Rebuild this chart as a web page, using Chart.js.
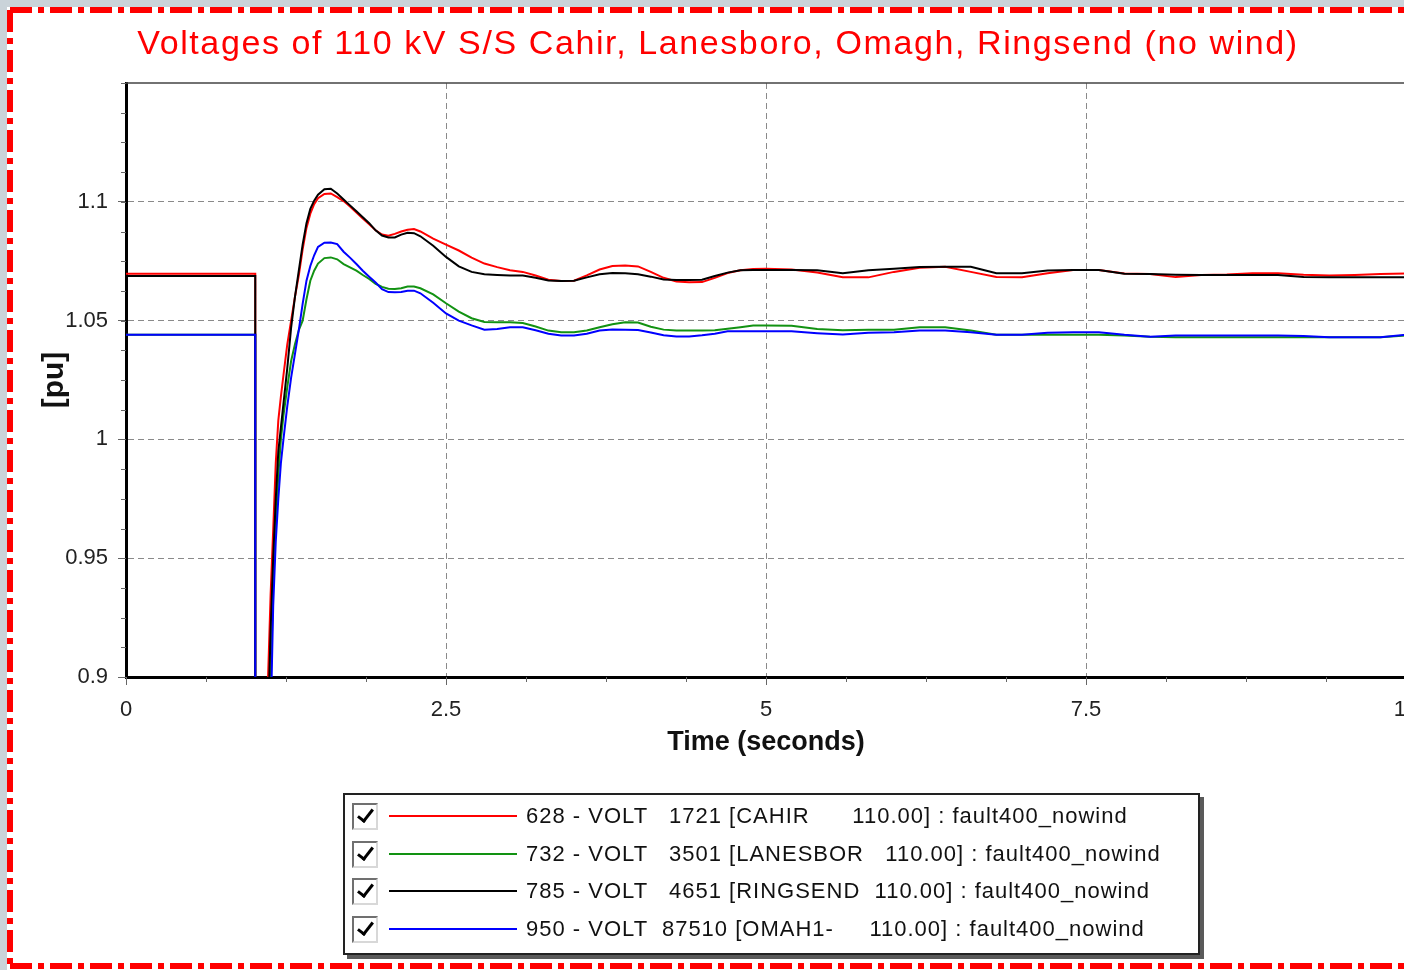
<!DOCTYPE html>
<html>
<head>
<meta charset="utf-8">
<title>Voltages of 110 kV S/S</title>
<script src="https://cdn.jsdelivr.net/npm/chart.js@4.4.1/dist/chart.umd.min.js"></script>
<style>
  html, body { margin: 0; padding: 0; width: 1404px; height: 970px; overflow: hidden; background: #cad3d9; }
  #wrap { position: absolute; left: 0; top: 0; width: 1434px; height: 970px; }
  #legend {
    position: absolute; left: 343px; top: 793px; width: 853px; height: 158px;
    border: 2px solid #222; background: #fff; box-shadow: 4px 4px 0 #5a5a5a;
    font-family: "Liberation Sans", Arial, sans-serif; font-size: 22px; color: #111;
  }
  .row { position: absolute; left: 0; width: 100%; height: 30px; }
  .box {
    position: absolute; left: 7px; top: 2px; width: 22px; height: 23px;
    border: 2px solid; border-color: #707070 #d8d8d8 #d8d8d8 #707070; background: #fff;
  }
  .box::after {
    content: ''; position: absolute; left: 7px; top: 1px; width: 6px; height: 13px;
    border-right: 3px solid #000; border-bottom: 3px solid #000; transform: rotate(38deg);
  }
  .swatch { position: absolute; left: 44px; top: 14px; width: 128px; height: 2px; }
  .txt { position: absolute; left: 181px; top: 0; line-height: 30px; white-space: pre; letter-spacing: 1px; }
</style>
</head>
<body>
<div id="wrap"><canvas id="voltChart" width="1434" height="970"></canvas></div>
<div id="legend"></div>
<script>
// time in seconds, shared by all four traces
const time = [0, 1.01, 1.01, 1.09, 1.11, 1.13, 1.15, 1.17, 1.19, 1.21, 1.23, 1.26, 1.29, 1.32, 1.35, 1.38, 1.41, 1.44, 1.47, 1.50,
  1.55, 1.60, 1.65, 1.70, 1.75, 1.80, 1.85, 1.90, 1.95, 2.00, 2.05, 2.10, 2.15, 2.20, 2.25, 2.30, 2.40, 2.50, 2.60, 2.70,
  2.80, 2.90, 3.00, 3.10, 3.20, 3.30, 3.40, 3.50, 3.60, 3.70, 3.80, 3.90, 4.00, 4.10, 4.20, 4.30, 4.40, 4.50, 4.60, 4.70,
  4.80, 4.90, 5.00, 5.20, 5.40, 5.60, 5.80, 6.00, 6.20, 6.40, 6.60, 6.80, 7.00, 7.20, 7.40, 7.60, 7.80, 8.00, 8.20, 8.40,
  8.60, 8.80, 9.00, 9.20, 9.40, 9.60, 9.80, 10.0];

const cahir = [1.0697, 1.0697, 0.6, 0.6, 0.9, 0.935, 0.962, 0.99, 1.008, 1.018, 1.027, 1.040, 1.050, 1.060, 1.069, 1.080, 1.089, 1.095, 1.099, 1.1015,
  1.1033, 1.1035, 1.102, 1.1003, 1.098, 1.0955, 1.093, 1.0905, 1.088, 1.0862, 1.0857, 1.0865, 1.0875, 1.0882, 1.0885, 1.0875, 1.0845, 1.082, 1.0795, 1.0765,
  1.074, 1.0725, 1.0712, 1.0705, 1.069, 1.0672, 1.0667, 1.0668, 1.069, 1.0715, 1.073, 1.0732, 1.0728, 1.0705, 1.068, 1.0665, 1.0661, 1.0662, 1.068, 1.070,
  1.0712, 1.0717, 1.0718, 1.0715, 1.0702, 1.0682, 1.0682, 1.0705, 1.0722, 1.0727, 1.0705, 1.0684, 1.0682, 1.0699, 1.0713, 1.0713, 1.0698, 1.0696, 1.0683, 1.0692,
  1.0694, 1.0699, 1.0699, 1.0693, 1.069, 1.0692, 1.0696, 1.0698];

const lanesboro = [1.044, 1.044, 0.6, 0.6, 0.86, 0.895, 0.94, 0.965, 0.985, 1.0, 1.01, 1.022, 1.033, 1.040, 1.046, 1.05, 1.059, 1.0668, 1.071, 1.074,
  1.0763, 1.0766, 1.0758, 1.0738, 1.0724, 1.071, 1.0692, 1.0675, 1.0655, 1.0642, 1.0634, 1.0633, 1.0636, 1.0643, 1.0643, 1.0636, 1.061, 1.0573, 1.0538, 1.051,
  1.0494, 1.0493, 1.0493, 1.049, 1.0475, 1.0458, 1.0451, 1.0451, 1.0458, 1.0472, 1.0485, 1.0493, 1.0492, 1.0474, 1.0462, 1.0458, 1.0458, 1.0458, 1.0459, 1.0466,
  1.0472, 1.0479, 1.0479, 1.0478, 1.0465, 1.0459, 1.0461, 1.0462, 1.0472, 1.0472, 1.0458, 1.044, 1.044, 1.044, 1.044, 1.044, 1.0437, 1.0432, 1.043, 1.043,
  1.043, 1.043, 1.043, 1.043, 1.043, 1.043, 1.043, 1.0437];

const ringsend = [1.0688, 1.0688, 0.6, 0.6, 0.88, 0.92, 0.95, 0.975, 0.995, 1.005, 1.015, 1.030, 1.047, 1.060, 1.071, 1.082, 1.091, 1.097, 1.1005, 1.103,
  1.1053, 1.1055, 1.1035, 1.101, 1.0985, 1.096, 1.0935, 1.091, 1.088, 1.0858, 1.085, 1.085, 1.0862, 1.087, 1.0868, 1.0855, 1.0815, 1.0768, 1.0728, 1.0705,
  1.0695, 1.0692, 1.069, 1.069, 1.068, 1.0669, 1.0667, 1.0668, 1.0682, 1.0695, 1.070, 1.0699, 1.0695, 1.0685, 1.0673, 1.0671, 1.0671, 1.0672, 1.0688, 1.0702,
  1.0712, 1.0713, 1.0713, 1.0713, 1.0712, 1.0699, 1.0712, 1.0718, 1.0726, 1.0727, 1.0727, 1.0699, 1.0699, 1.0711, 1.0713, 1.0713, 1.0697, 1.0696, 1.0693, 1.0692,
  1.0692, 1.0692, 1.0692, 1.0683, 1.0682, 1.0682, 1.0682, 1.0682];

const omagh = [1.044, 1.044, 0.6, 0.6, 0.85, 0.88, 0.93, 0.957, 0.975, 0.99, 1.0, 1.014, 1.026, 1.036, 1.046, 1.057, 1.0668, 1.073, 1.0775, 1.081,
  1.0828, 1.0829, 1.0822, 1.079, 1.0765, 1.0738, 1.071, 1.0685, 1.066, 1.0632, 1.062, 1.0619, 1.062, 1.0626, 1.0626, 1.0615, 1.0575, 1.053, 1.050, 1.048,
  1.0462, 1.0465, 1.0472, 1.0472, 1.0459, 1.0445, 1.0437, 1.0437, 1.0445, 1.0458, 1.0463, 1.0461, 1.046, 1.045, 1.0438, 1.0433, 1.0433, 1.0438, 1.0445, 1.0455,
  1.0455, 1.0455, 1.0455, 1.0455, 1.0447, 1.0441, 1.0449, 1.0451, 1.0458, 1.0458, 1.0451, 1.044, 1.044, 1.0449, 1.0451, 1.0451, 1.044, 1.0432, 1.0437, 1.0437,
  1.0437, 1.0437, 1.0437, 1.0435, 1.043, 1.043, 1.043, 1.044];

const seriesLabels = [
  '628 - VOLT   1721 [CAHIR      110.00] : fault400_nowind',
  '732 - VOLT   3501 [LANESBOR   110.00] : fault400_nowind',
  '785 - VOLT   4651 [RINGSEND  110.00] : fault400_nowind',
  '950 - VOLT  87510 [OMAH1-     110.00] : fault400_nowind'
];

const chartTitle = 'Voltages of 110 kV S/S Cahir, Lanesboro, Omagh, Ringsend (no wind)';
const xTicks = [0, 2.5, 5, 7.5, 10];
const yTicks = [0.9, 0.95, 1, 1.05, 1.1];

const FONT = '"Liberation Sans", Arial, sans-serif';
const colors = ['#ff0000', '#129212', '#000000', '#0000ff'];
const drawOrder = [4, 3, 2, 1]; // blue on top, then black...

const toPoints = (vals) => time.map((t, i) => ({ x: t, y: vals[i] }));
const seriesValues = [cahir, lanesboro, ringsend, omagh];

// grey page, white panel, red dash-dot frame, red title
const backdrop = {
  id: 'backdrop',
  beforeDraw(chart) {
    const ctx = chart.ctx;
    const w = chart.width, h = chart.height;
    ctx.save();
    ctx.fillStyle = '#cad3d9';
    ctx.fillRect(0, 0, w, h);
    ctx.fillStyle = '#ffffff';
    ctx.fillRect(7, 7, w, h);
    ctx.strokeStyle = '#ff0000';
    ctx.lineWidth = 6;
    ctx.setLineDash([22, 6, 6, 6]);
    ctx.beginPath();
    ctx.moveTo(10, 10); ctx.lineTo(w, 10);
    ctx.moveTo(10, 10); ctx.lineTo(10, h);
    ctx.moveTo(10, 966); ctx.lineTo(w, 966);
    ctx.stroke();
    ctx.setLineDash([]);
    ctx.fillStyle = '#ff0000';
    ctx.font = '34px ' + FONT;
    ctx.letterSpacing = '1.6px';
    ctx.textAlign = 'center';
    ctx.textBaseline = 'middle';
    ctx.fillText(chartTitle, 718, 45);
    ctx.restore();
  }
};

// thin frame on top/right and the small minor ticks
const frame = {
  id: 'frame',
  afterDraw(chart) {
    const ctx = chart.ctx;
    const a = chart.chartArea;
    const xs = chart.scales.x, ys = chart.scales.y;
    ctx.save();
    ctx.strokeStyle = '#444';
    ctx.lineWidth = 1.5;
    ctx.beginPath();
    ctx.moveTo(a.left, a.top); ctx.lineTo(a.right, a.top); ctx.lineTo(a.right, a.bottom);
    ctx.stroke();
    ctx.strokeStyle = '#666';
    ctx.lineWidth = 1;
    ctx.beginPath();
    for (let v = 0; v <= 10.001; v += 0.625) {
      const px = Math.round(xs.getPixelForValue(v)) + 0.5;
      ctx.moveTo(px, a.bottom); ctx.lineTo(px, a.bottom + 5);
    }
    for (let v = 0.9; v <= 1.15; v += 0.0125) {
      const py = Math.round(ys.getPixelForValue(v)) + 0.5;
      ctx.moveTo(a.left - 5, py); ctx.lineTo(a.left, py);
    }
    ctx.stroke();
    ctx.restore();
  }
};

const fmt = (v) => String(+Number(v).toFixed(4));

new Chart(document.getElementById('voltChart'), {
  type: 'line',
  data: {
    datasets: seriesValues.map((vals, i) => ({
      label: seriesLabels[i],
      data: toPoints(vals),
      borderColor: colors[i],
      borderWidth: 2,
      pointRadius: 0,
      tension: 0,
      fill: false,
      order: drawOrder[i]
    }))
  },
  options: {
    responsive: false,
    animation: false,
    layout: { padding: { left: 0, right: 28, top: 83, bottom: 0 } },
    plugins: {
      legend: { display: false },
      tooltip: { enabled: false },
      title: { display: false }
    },
    scales: {
      x: {
        type: 'linear',
        min: 0,
        max: 10,
        afterBuildTicks: (scale) => { scale.ticks = xTicks.map(v => ({ value: v })); },
        afterFit: (scale) => { scale.height = 293; },
        ticks: {
          color: '#222',
          padding: 12,
          maxRotation: 0,
          font: { family: FONT, size: 22 },
          callback: fmt
        },
        grid: {
          color: (c) => (c.tick && (c.tick.value === 0 || c.tick.value === 10)) ? 'rgba(0,0,0,0)' : '#8a8a8a',
          lineWidth: 1,
          tickColor: '#666',
          tickLength: 8
        },
        border: { display: true, color: '#000', width: 3, dash: [6, 4] },
        title: {
          display: true,
          text: 'Time (seconds)',
          color: '#111',
          font: { family: FONT, size: 27, weight: 'bold' },
          padding: { top: 0, bottom: 211 }
        }
      },
      y: {
        type: 'linear',
        min: 0.9,
        max: 1.15,
        afterBuildTicks: (scale) => { scale.ticks = yTicks.map(v => ({ value: v })); },
        afterFit: (scale) => { scale.width = 126; },
        ticks: {
          color: '#222',
          padding: 10,
          font: { family: FONT, size: 22 },
          callback: fmt
        },
        grid: {
          color: (c) => (c.tick && c.tick.value === 0.9) ? 'rgba(0,0,0,0)' : '#8a8a8a',
          lineWidth: 1,
          tickColor: '#666',
          tickLength: 8
        },
        border: { display: true, color: '#000', width: 3, dash: [6, 4] },
        title: {
          display: true,
          text: '[pu]',
          color: '#111',
          font: { family: FONT, size: 30, weight: 'bold' },
          padding: { top: 37, bottom: 0 }
        }
      }
    }
  },
  plugins: [backdrop, frame]
});

// legend box below the plot, built from the same labels
const legend = document.getElementById('legend');
const rowTops = [6, 43.5, 81, 119];
seriesLabels.forEach((label, i) => {
  const row = document.createElement('div');
  row.className = 'row';
  row.style.top = rowTops[i] + 'px';
  const box = document.createElement('span');
  box.className = 'box';
  const sw = document.createElement('span');
  sw.className = 'swatch';
  sw.style.background = colors[i];
  const txt = document.createElement('span');
  txt.className = 'txt';
  txt.textContent = label;
  row.appendChild(box);
  row.appendChild(sw);
  row.appendChild(txt);
  legend.appendChild(row);
});
</script>
</body>
</html>
